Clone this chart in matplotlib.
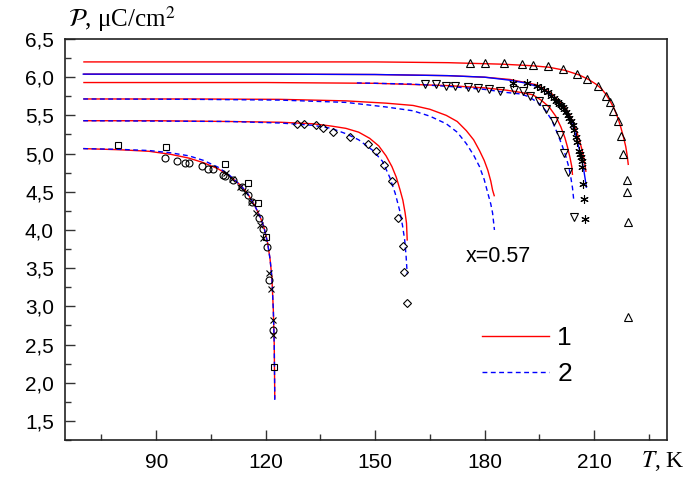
import matplotlib
matplotlib.use("Agg")
import matplotlib.pyplot as plt
from matplotlib.lines import Line2D
from matplotlib.ticker import FixedLocator, FuncFormatter

plt.rcParams['font.family'] = ['Liberation Sans', 'DejaVu Sans']
plt.rcParams['mathtext.fontset'] = 'stix'

# ---- model curves: temperature T (K) and polarization P (uC/cm^2) ----
# curve a (lowest Tc)
a_red_T = [70, 80, 88, 94, 99, 103, 107, 110, 113, 115, 117, 118.5, 119.5, 120.5, 121.2, 121.7, 122.1, 122.35, 122.5]
a_red_P = [5.065, 5.05, 5.03, 4.99, 4.94, 4.88, 4.80, 4.71, 4.59, 4.48, 4.32, 4.17, 4.04, 3.84, 3.62, 3.38, 2.95, 2.50, 1.79]
a_blue_T = [70, 80, 88, 94, 99, 103, 107, 110, 113, 115, 117, 118.5, 119.5, 120.5, 121.2, 121.7, 122.1, 122.35, 122.5]
a_blue_P = [5.065, 5.055, 5.04, 5.01, 4.97, 4.91, 4.82, 4.72, 4.59, 4.48, 4.32, 4.17, 4.04, 3.84, 3.62, 3.38, 2.95, 2.50, 1.77]

# curve b
b_red_T = [70, 90, 110, 124, 133, 138, 142, 145.5, 148.5, 151, 153, 154.6, 155.8, 156.8, 157.6, 158.2, 158.6, 158.8]
b_red_P = [5.43, 5.43, 5.42, 5.41, 5.39, 5.36, 5.33, 5.28, 5.20, 5.10, 4.97, 4.83, 4.69, 4.53, 4.39, 4.23, 4.09, 3.86]
b_blue_T = [70, 110, 124, 133, 138, 142, 145.5, 149.4, 152, 154, 155.5, 156.7, 157.5, 158.1, 158.5, 158.8]
b_blue_P = [5.43, 5.42, 5.40, 5.37, 5.33, 5.26, 5.18, 5.04, 4.90, 4.69, 4.48, 4.26, 4.06, 3.87, 3.65, 3.42]

# curve c (x = 0.57)
c_red_T = [70, 100, 124, 142, 153, 160.4, 165, 169.5, 172.5, 175, 177, 178.6, 179.9, 180.9, 181.7, 182.2, 182.7]
c_red_P = [5.715, 5.715, 5.71, 5.69, 5.66, 5.63, 5.58, 5.50, 5.42, 5.30, 5.18, 5.04, 4.91, 4.78, 4.64, 4.52, 4.44]
c_blue_T = [70, 100, 124, 142, 153, 160.4, 165, 169.5, 172.5, 175, 177, 178.6, 179.9, 180.9, 181.7, 182.2, 182.7]
c_blue_P = [5.715, 5.71, 5.70, 5.67, 5.61, 5.56, 5.49, 5.39, 5.28, 5.13, 4.98, 4.83, 4.66, 4.48, 4.34, 4.22, 4.00]

# curve d
d_red_T = [70, 120, 150, 170, 180, 186, 190, 193.2, 195.5, 197.7, 199.5, 200.9, 202, 202.7, 203.4, 203.9, 204.1]
d_red_P = [5.93, 5.93, 5.92, 5.89, 5.86, 5.83, 5.80, 5.77, 5.70, 5.61, 5.49, 5.35, 5.21, 5.09, 4.95, 4.83, 4.72]
d_blue_T = [145, 160, 170, 180, 186, 190, 192.3, 194.8, 196.8, 198.5, 200, 201.3, 202.3, 203.1, 203.6, 204.1, 204.4]
d_blue_P = [5.925, 5.91, 5.88, 5.84, 5.80, 5.78, 5.74, 5.66, 5.56, 5.43, 5.26, 5.10, 4.96, 4.82, 4.70, 4.55, 4.41]

# curve e
e_red_T = [70, 120, 150, 170, 180, 187, 194.3, 198.5, 202.3, 204.1, 205.5, 206.6, 207.3, 207.8]
e_red_P = [6.04, 6.04, 6.035, 6.02, 6.00, 5.97, 5.90, 5.78, 5.59, 5.43, 5.25, 5.07, 4.92, 4.76]
e_blue_T = [70, 120, 150, 170, 180, 187, 191.6, 194.3, 196.4, 198.5, 200.5, 202.3, 203.8, 205, 205.9, 206.6, 207.2, 207.6, 207.9]
e_blue_P = [6.04, 6.04, 6.035, 6.02, 6.00, 5.96, 5.92, 5.88, 5.83, 5.75, 5.66, 5.55, 5.42, 5.24, 5.07, 4.93, 4.78, 4.66, 4.56]

# curve f (highest Tc)
f_red_T = [70, 150, 170, 185, 193, 197.7, 202, 205.9, 208.5, 210.5, 212, 213.2, 214.5, 215.5, 216.5, 217.3, 218.1, 218.7, 219.1, 219.4]
f_red_P = [6.20, 6.20, 6.19, 6.17, 6.15, 6.13, 6.09, 6.03, 5.97, 5.91, 5.85, 5.78, 5.68, 5.59, 5.47, 5.35, 5.21, 5.09, 4.97, 4.85]

# ---- measured points ----
sq_T = [79.4, 92.6, 108.9, 115.2, 118.0, 120.0, 122.4]
sq_P = [5.11, 5.09, 4.86, 4.61, 4.35, 3.91, 2.20]

ci_T = [92.5, 95.7, 97.9, 99.1, 102.5, 104.3, 105.5, 108.4, 108.9, 111.0, 113.4, 115.2, 116.2, 118.3, 119.3, 120.3, 121.0, 122.1]
ci_P = [4.94, 4.90, 4.88, 4.88, 4.84, 4.80, 4.80, 4.72, 4.70, 4.66, 4.56, 4.46, 4.37, 4.15, 4.01, 3.78, 3.35, 2.69]

cr_T = [109.1, 110.7, 112.9, 114.3, 115.9, 117.3, 118.4, 119.3, 121.0, 121.4, 121.9, 122.1]
cr_P = [4.75, 4.67, 4.56, 4.50, 4.37, 4.22, 4.07, 3.89, 3.44, 3.23, 2.82, 2.63]

di_T = [128.5, 130.5, 133.9, 135.7, 138.5, 143.2, 148.1, 150.2, 152.4, 154.6, 156.3, 157.6, 158.0, 158.7]
di_P = [5.39, 5.39, 5.37, 5.33, 5.28, 5.22, 5.12, 5.04, 4.85, 4.64, 4.15, 3.79, 3.45, 3.04]

dn_T = [163.7, 166.7, 169.5, 172.0, 175.4, 178.1, 181.3, 184.3, 188.2, 190.4, 192.5, 194.8, 196.8, 199.1, 200.7, 201.8, 202.9, 204.6]
dn_P = [5.91, 5.91, 5.88, 5.89, 5.87, 5.86, 5.85, 5.82, 5.83, 5.82, 5.75, 5.69, 5.59, 5.43, 5.24, 5.01, 4.76, 4.17]

st_T = [187.7, 191.6, 194.3, 195.5, 196.4, 197.3, 198.2, 199.0, 199.6, 200.1, 200.5, 201.0, 201.4, 201.9, 202.3,
        202.8, 203.2, 203.6, 204.1, 204.5, 205.0, 205.4, 205.9, 206.1, 206.4, 206.6, 206.7, 207.0, 207.3, 207.6]
st_P = [5.92, 5.92, 5.88, 5.86, 5.83, 5.80, 5.76, 5.73, 5.69, 5.67, 5.65, 5.63, 5.61, 5.58, 5.54,
        5.50, 5.46, 5.42, 5.37, 5.31, 5.22, 5.15, 5.04, 5.00, 4.96, 4.90, 4.83, 4.60, 4.41, 4.14]

up_T = [176.1, 180.2, 185.4, 190.2, 193.4, 197.5, 201.4, 205.2, 208.2, 211.1, 213.4, 214.3, 215.3, 216.6, 217.3,
        217.9, 218.9, 219.1, 219.3, 219.2]
up_P = [6.19, 6.19, 6.19, 6.17, 6.16, 6.14, 6.11, 6.04, 5.98, 5.89, 5.76, 5.67, 5.56, 5.43, 5.23,
        4.99, 4.65, 4.50, 4.11, 2.86]

x_ticks = [90, 120, 150, 180, 210]
x_minor = [75, 105, 135, 165, 195, 225]
y_ticks = [1.5, 2.0, 2.5, 3.0, 3.5, 4.0, 4.5, 5.0, 5.5, 6.0, 6.5]
y_minor = [1.25, 1.75, 2.25, 2.75, 3.25, 3.75, 4.25, 4.75, 5.25, 5.75, 6.25]
legend_labels = ['1', '2']

RED = '#ff0000'
BLUE = '#0000ff'

fig = plt.figure(figsize=(6.97, 4.80), dpi=100)
ax = fig.add_axes([65 / 697, 40 / 480, 602 / 697, 401 / 480])

red_kw = dict(color=RED, lw=1.0, solid_capstyle='butt')
blue_dash_kw = dict(color=BLUE, lw=1.0, ls=(0, (3.5, 2.5)))

for T, P in [(a_red_T, a_red_P), (b_red_T, b_red_P), (c_red_T, c_red_P),
             (d_red_T, d_red_P), (e_red_T, e_red_P), (f_red_T, f_red_P)]:
    ax.plot(T, P, **red_kw)
ax.plot(e_blue_T, e_blue_P, color=BLUE, lw=1.0)
for T, P in [(a_blue_T, a_blue_P), (b_blue_T, b_blue_P), (c_blue_T, c_blue_P),
             (d_blue_T, d_blue_P)]:
    ax.plot(T, P, **blue_dash_kw)

mk = dict(ls='none', mfc='none', mec='black', mew=0.8)
ax.plot(sq_T, sq_P, marker='s', ms=5.0, **mk)
ax.plot(ci_T, ci_P, marker='o', ms=5.0, **mk)
ax.plot(cr_T, cr_P, marker='x', ms=5.0, **mk)
ax.plot(di_T, di_P, marker='D', ms=4.0, **mk)
ax.plot(dn_T, dn_P, marker='v', ms=5.5, **mk)
ax.plot(up_T, up_P, marker='^', ms=5.5, **mk)
ax.plot(st_T, st_P, marker=(6, 2, 0), ms=6.0, ls='none', color='black', mew=0.8)

ax.set_xlim(65, 230)
ax.set_ylim(1.25, 6.5)
ax.xaxis.set_major_locator(FixedLocator(x_ticks))
ax.xaxis.set_minor_locator(FixedLocator(x_minor))
ax.yaxis.set_major_locator(FixedLocator(y_ticks))
ax.yaxis.set_minor_locator(FixedLocator(y_minor))
ax.yaxis.set_major_formatter(FuncFormatter(lambda v, p: f"{v:.1f}".replace('.', ',')))
ax.xaxis.set_major_formatter(FuncFormatter(lambda v, p: f"{v:.0f}"))

ax.tick_params(which='both', direction='in', top=False, right=False, width=1.0, color='#333333')
ax.tick_params(which='major', length=7.5, labelsize=15)
ax.tick_params(which='minor', length=4)
ax.tick_params(axis='x', which='major', pad=9)
ax.tick_params(axis='y', which='major', pad=8)
for s in ax.spines.values():
    s.set_linewidth(1.2)
    s.set_color('#222222')

ax.text(174.8, 3.58, 'x=0.57', fontsize=15.5, va='baseline', ha='left')

fig.text(68 / 697, 1 - 27 / 480, r'$\mathcal{P}$, μC/cm$^{2}$', fontsize=18,
         family=['Liberation Serif', 'DejaVu Serif'], va='baseline', ha='left')
fig.text(641 / 697, 1 - 467 / 480, r'$T$, K', fontsize=17,
         family=['Liberation Serif', 'DejaVu Serif'], va='baseline', ha='left')

handles = [Line2D([], [], color=RED, lw=1.0),
           Line2D([], [], color=BLUE, lw=1.0, ls=(0, (3.5, 2.5)))]
ax.legend(handles, legend_labels, loc='upper left', bbox_to_anchor=(482 / 697, 1 - 326 / 480),
          bbox_transform=fig.transFigure, frameon=False, fontsize=19, handlelength=2.55,
          handletextpad=0.3, labelspacing=0.45, borderpad=0, borderaxespad=0)

fig.savefig('out.png', dpi=100)
